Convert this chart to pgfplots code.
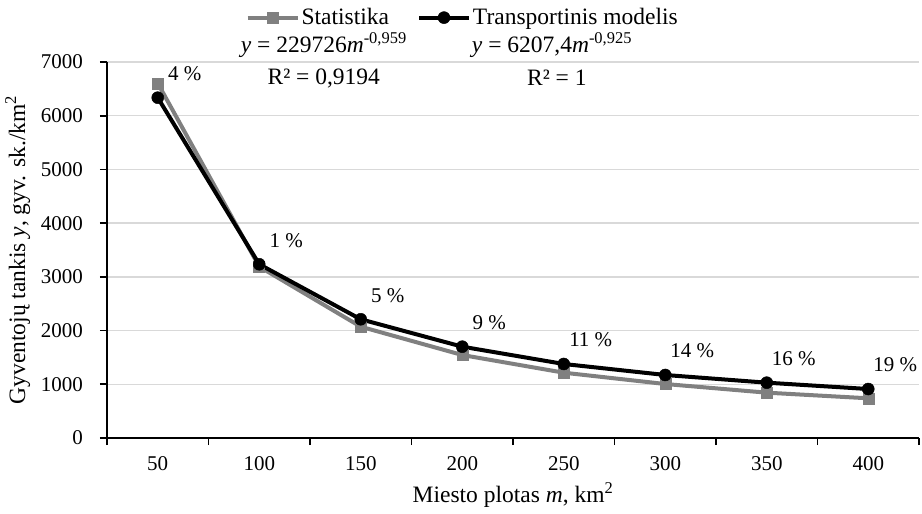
\documentclass[border=0pt]{standalone}
\usepackage{pgfplots}
\pgfplotsset{compat=1.18}
\usepackage{fontspec}
\setmainfont{Liberation Serif}
\definecolor{statgray}{HTML}{808080}
\definecolor{gridgray}{HTML}{D9D9D9}
\newcommand{\bigf}{\fontsize{23.5bp}{28bp}\selectfont}
\newcommand{\smallf}{\fontsize{21bp}{25bp}\selectfont}
\begin{document}
{\bigf
\begin{tikzpicture}
\useasboundingbox (-107bp,-76bp) rectangle (815bp,438bp);
\begin{axis}[
  scale only axis,
  width=812bp, height=376bp,
  xmin=0.5, xmax=8.5, ymin=0, ymax=7000,
  axis x line=bottom, axis y line=left,
  axis line style={-, line width=1.6bp, black},
  clip=false,
  xtick={1,...,8},
  xticklabels={50,100,150,200,250,300,350,400},
  major x tick style={draw=none},
  minor xtick={0.5,1.5,...,8.5},
  minor x tick style={black, line width=1.6bp},
  minor tick length=7bp,
  ytick={0,1000,...,7000},
  yticklabels={0,1000,2000,3000,4000,5000,6000,7000},
  major tick length=7bp,
  tick align=outside,
  y tick style={black, line width=1.6bp},
  ymajorgrids,
  grid style={gridgray, line width=1.5bp},
  tick label style={font=\smallf},
  yticklabel style={xshift=-9bp},
  xticklabel style={yshift=-3bp},
  label style={font=\bigf},
  xlabel={Miesto plotas \textit{m}, km\textsuperscript{2}},
  ylabel={Gyventojų tankis \textit{y}, gyv. sk./km\textsuperscript{2}},
  xlabel style={yshift=3bp},
  ylabel style={yshift=-5bp},
  legend columns=2,
  legend style={draw=none, fill=none, font=\bigf, at={(axis description cs:0.438,1.118)}, anchor=center,
    /tikz/every even column/.append style={column sep=26bp}},
  legend image code/.code={\draw[mark repeat=2,mark phase=2] plot coordinates {(0bp,0bp) (25bp,0bp) (50bp,0bp)};},
]
\addplot[statgray, line width=4bp, mark=square*, mark size=5.5bp, mark options={solid, line width=0.5bp, fill=statgray}]
  table {
x y
1 6604
2 3190
3 2072
4 1545
5 1216
6 1005
7 844
8 739
};
\addlegendentry{Statistika}
\addplot[black, line width=4bp, mark=*, mark size=6bp, mark options={solid, line width=0.5bp, fill=black},
  point meta=explicit symbolic,
  nodes near coords={\pgfplotspointmeta\ \%},
  every node near coord/.append style={anchor=center, xshift=27bp, yshift=24bp, black, font=\smallf}]
  table[meta=p] {
x y p
1 6336 4
2 3234 1
3 2210 5
4 1700 9
5 1378 11
6 1173 14
7 1030 16
8 912 19
};
\addlegendentry{Transportinis modelis}
\node[font=\bigf] at (axis description cs:0.267,1.045) {\textit{y} = 229726\textit{m}\textsuperscript{-0,959}};
\node[font=\bigf] at (axis description cs:0.267,0.957) {R² = 0,9194};
\node[font=\bigf] at (axis description cs:0.548,1.045) {\textit{y} = 6207,4\textit{m}\textsuperscript{-0,925}};
\node[font=\bigf] at (axis description cs:0.554,0.957) {R² = 1};
\end{axis}
\end{tikzpicture}}
\end{document}
